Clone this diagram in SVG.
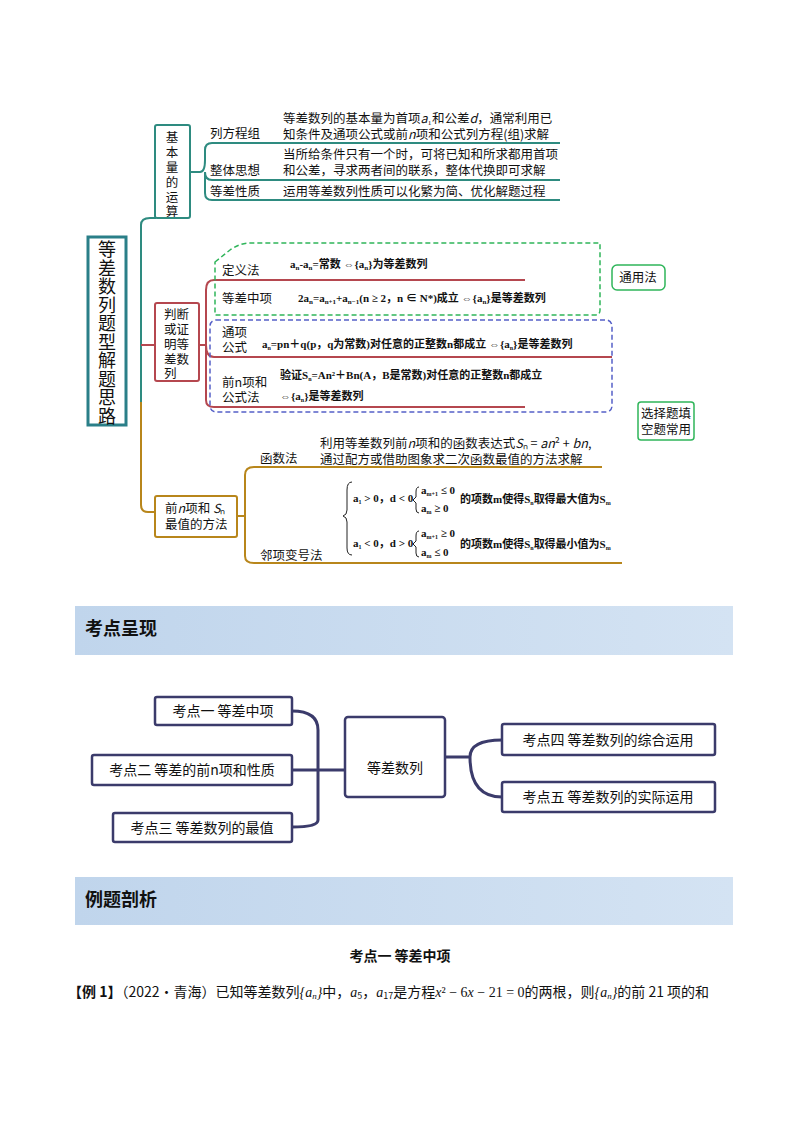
<svg xmlns="http://www.w3.org/2000/svg" width="800" height="1132" viewBox="0 0 800 1132">
<style>
text{font-family:"Noto Sans CJK SC","Liberation Serif",serif;fill:#111}
.s{font-size:12.5px}
.f{font-size:11px;font-family:"Liberation Serif","Noto Sans CJK SC",serif;font-weight:bold}
.t{stroke:#2e8b80;stroke-width:2;fill:none}
.r{stroke:#b5474f;stroke-width:2;fill:none}
.g{stroke:#b8861b;stroke-width:2;fill:none}
.n{stroke:#3b3b6b;stroke-width:3;fill:none}
.nb{fill:#fff;stroke:#3b3b6b;stroke-width:2.5}
.m{font-size:14px}
.h{font-size:18px;font-weight:bold}
.v{font-size:18px;text-anchor:middle}
.vs{font-size:12.5px;text-anchor:middle}
</style>
<defs><linearGradient id="hb" x1="0" x2="1"><stop offset="0" stop-color="#c0d5ec"/><stop offset="1" stop-color="#d4e3f3"/></linearGradient></defs>
<rect width="800" height="1132" fill="#fff"/>
<g id="connectors">
<path class="t" d="M141 402 V225 Q141 218 150 218 H156"/>
<path class="r" d="M141 345 H156"/>
<path class="g" d="M141 402 V505 Q141 512 148 512 H156"/>
<path class="t" d="M190 172 H200 M200 172 Q205 172 205 160 V150 Q205 143 212 143 H560 M205 172 V193 Q205 200 212 200 H560 M205 172 Q205 180 212 180 H560"/>
<path class="r" d="M199 345 H206 M206 345 V290 Q206 280 214 280 H525 M206 345 Q206 357 214 357 H612 M206 345 V400 Q206 407 214 407 H525"/>
<path class="g" d="M237 516 H245 M245 516 V475 Q245 467 254 467 H602 M245 516 V556 Q245 563 254 563 H622"/>
<path d="M215 262 L230 250 Q240 243 250 243 H600 V310 Q600 315 595 315 H215 Z" fill="none" stroke="#2fb55a" stroke-width="1.5" stroke-dasharray="5,3"/>
<rect x="210" y="320" width="402" height="92" rx="6" fill="none" stroke="#5560c8" stroke-width="1.5" stroke-dasharray="5,3"/>
<path class="n" d="M292 711 Q318 711 318 730 V820 Q318 827 292 827 M292 770 H345 M445 757 H470 M470 757 Q470 740 502 740 M470 757 Q470 797 502 797"/>
</g>
<g id="title"><rect x="88" y="237" width="38" height="188" fill="#fff" stroke="#2a7f88" stroke-width="3"/>
<text class="v" x="107" y="256">等</text><text class="v" x="107" y="274.5">差</text><text class="v" x="107" y="293">数</text><text class="v" x="107" y="311.5">列</text><text class="v" x="107" y="330">题</text><text class="v" x="107" y="348.5">型</text><text class="v" x="107" y="367">解</text><text class="v" x="107" y="385.5">题</text><text class="v" x="107" y="404">思</text><text class="v" x="107" y="422.5">路</text></g>
<g id="n1"><rect x="155" y="125" width="35" height="93" rx="2" fill="#fff" stroke="#2e8b80" stroke-width="2"/>
<text class="vs" x="172" y="142">基</text><text class="vs" x="172" y="157">本</text><text class="vs" x="172" y="172">量</text><text class="vs" x="172" y="187">的</text><text class="vs" x="172" y="202">运</text><text class="vs" x="172" y="216">算</text></g>
<g id="n1a"><text class="s" x="210" y="138">列方程组</text><text class="s" x="283" y="123">等差数列的基本量为首项<tspan font-style="italic">a</tspan>₁和公差<tspan font-style="italic">d</tspan>，通常利用已</text><text class="s" x="283" y="139">知条件及通项公式或前<tspan font-style="italic">n</tspan>项和公式列方程(组)求解</text></g>
<g id="n1b"><text class="s" x="210" y="175">整体思想</text><text class="s" x="283" y="159">当所给条件只有一个时，可将已知和所求都用首项</text><text class="s" x="283" y="175">和公差，寻求两者间的联系，整体代换即可求解</text></g>
<g id="n1c"><text class="s" x="210" y="196">等差性质</text><text class="s" x="283" y="196">运用等差数列性质可以化繁为简、优化解题过程</text></g>
<g id="n2"><rect x="155" y="303" width="44" height="78" rx="2" fill="#fff" stroke="#b5474f" stroke-width="2"/>
<text class="s" x="164" y="319">判断</text><text class="s" x="164" y="334">或证</text><text class="s" x="164" y="349">明等</text><text class="s" x="164" y="364">差数</text><text class="s" x="164" y="378">列</text></g>
<g id="n2a"><text class="s" x="222" y="275">定义法</text><text class="f" x="290" y="268">a<tspan font-size="7" dy="2">n</tspan><tspan dy="-2">-a</tspan><tspan font-size="7" dy="2">n</tspan><tspan dy="-2">=常数 ⇔{a</tspan><tspan font-size="7" dy="2">n</tspan><tspan dy="-2">}为等差数列</tspan></text></g>
<g id="n2b"><text class="s" x="222" y="303">等差中项</text><text class="f" x="298" y="302" font-size="12">2a<tspan font-size="7" dy="2">n</tspan><tspan dy="-2">=a</tspan><tspan font-size="7" dy="2">n+1</tspan><tspan dy="-2">+a</tspan><tspan font-size="7" dy="2">n−1</tspan><tspan dy="-2">(n ≥ 2，n ∈ N*)成立 ⇔{a</tspan><tspan font-size="7" dy="2">n</tspan><tspan dy="-2">}是等差数列</tspan></text></g>
<g id="n2c"><text class="s" x="222" y="337">通项</text><text class="s" x="222" y="352">公式</text><text class="f" x="262" y="348" font-size="10">a<tspan font-size="6" dy="2">n</tspan><tspan dy="-2">=pn＋q(p，q为常数)对任意的正整数n都成立 ⇔{a</tspan><tspan font-size="6" dy="2">n</tspan><tspan dy="-2">}是等差数列</tspan></text></g>
<g id="n2d"><text class="s" x="222" y="387">前n项和</text><text class="s" x="222" y="402">公式法</text><text class="f" x="280" y="379" font-size="10">验证S<tspan font-size="6" dy="2">n</tspan><tspan dy="-2">=An²＋Bn(A，B是常数)对任意的正整数n都成立</tspan></text><text class="f" x="280" y="400" font-size="10">⇔{a<tspan font-size="6" dy="2">n</tspan><tspan dy="-2">}是等差数列</tspan></text></g>
<g id="tong"><rect x="612" y="265" width="53" height="25" rx="5" fill="#fff" stroke="#2fb55a" stroke-width="1.5"/><text class="s" x="638" y="282" text-anchor="middle">通用法</text></g>
<g id="xuan"><rect x="638" y="402" width="56" height="38" rx="3" fill="#fff" stroke="#2fb55a" stroke-width="1.5"/><text class="s" x="666" y="418" text-anchor="middle">选择题填</text><text class="s" x="666" y="434" text-anchor="middle">空题常用</text></g>
<g id="n3"><rect x="155" y="496" width="82" height="41" rx="2" fill="#fff" stroke="#b8861b" stroke-width="2"/><text class="s" x="165" y="513">前<tspan font-style="italic">n</tspan>项和 <tspan font-style="italic">S</tspan>ₙ</text><text class="s" x="165" y="529">最值的方法</text></g>
<g id="n3a"><text class="s" x="260" y="463">函数法</text><text class="s" x="320" y="448">利用等差数列前<tspan font-style="italic">n</tspan>项和的函数表达式<tspan font-style="italic">S</tspan>ₙ = <tspan font-style="italic">an</tspan>² + <tspan font-style="italic">bn</tspan>,</text><text class="s" x="320" y="464">通过配方或借助图象求二次函数最值的方法求解</text></g>
<g id="n3b"><text class="s" x="260" y="560">邻项变号法</text>
<path d="M352 482 Q347 482 347 490 V510 Q347 515 343 516 Q347 517 347 522 V548 Q347 555 352 555" fill="none" stroke="#222" stroke-width="1"/>
<text class="f" x="353" y="502" font-size="10">a<tspan font-size="6" dy="2">1</tspan><tspan dy="-2"> &gt; 0，d &lt; 0</tspan></text>
<path d="M419 487 Q416 487 416 492 V497 L413 500 L416 503 V509 Q416 513 419 513" fill="none" stroke="#222" stroke-width="1"/>
<text class="f" x="421" y="494" font-size="10">a<tspan font-size="6" dy="2">m+1</tspan><tspan dy="-2"> ≤ 0</tspan></text><text class="f" x="421" y="512" font-size="10">a<tspan font-size="6" dy="2">m</tspan><tspan dy="-2"> ≥ 0</tspan></text>
<text class="f" x="460" y="503" font-size="10">的项数m使得S<tspan font-size="6" dy="2">n</tspan><tspan dy="-2">取得最大值为S</tspan><tspan font-size="6" dy="2">m</tspan></text>
<text class="f" x="353" y="547" font-size="10">a<tspan font-size="6" dy="2">1</tspan><tspan dy="-2"> &lt; 0，d &gt; 0</tspan></text>
<path d="M419 531 Q416 531 416 536 V541 L413 544 L416 547 V553 Q416 557 419 557" fill="none" stroke="#222" stroke-width="1"/>
<text class="f" x="421" y="537" font-size="10">a<tspan font-size="6" dy="2">m+1</tspan><tspan dy="-2"> ≥ 0</tspan></text><text class="f" x="421" y="556" font-size="10">a<tspan font-size="6" dy="2">m</tspan><tspan dy="-2"> ≤ 0</tspan></text>
<text class="f" x="460" y="548" font-size="10">的项数m使得S<tspan font-size="6" dy="2">n</tspan><tspan dy="-2">取得最小值为S</tspan><tspan font-size="6" dy="2">m</tspan></text></g>
<g id="h1"><rect x="75" y="606" width="658" height="49" fill="url(#hb)"/><text class="h" x="85" y="635">考点呈现</text></g>
<g id="c"><rect class="nb" x="345" y="717" width="100" height="80" rx="3"/><text class="m" x="395" y="773" text-anchor="middle">等差数列</text></g>
<g id="k1"><rect class="nb" x="155" y="697" width="137" height="28" rx="2"/><text class="m" x="223" y="716" text-anchor="middle">考点一  等差中项</text></g>
<g id="k2"><rect class="nb" x="92" y="755" width="200" height="30" rx="2"/><text class="m" x="192" y="775" text-anchor="middle">考点二  等差的前n项和性质</text></g>
<g id="k3"><rect class="nb" x="113" y="813" width="179" height="29" rx="2"/><text class="m" x="202" y="833" text-anchor="middle">考点三  等差数列的最值</text></g>
<g id="k4"><rect class="nb" x="502" y="724" width="213" height="31" rx="2"/><text class="m" x="608" y="745" text-anchor="middle">考点四  等差数列的综合运用</text></g>
<g id="k5"><rect class="nb" x="502" y="782" width="213" height="30" rx="2"/><text class="m" x="608" y="802" text-anchor="middle">考点五  等差数列的实际运用</text></g>
<g id="h2"><rect x="75" y="877" width="658" height="48" fill="url(#hb)"/><text class="h" x="85" y="906">例题剖析</text></g>
<text x="400" y="961" font-size="14" font-weight="bold" text-anchor="middle">考点一  等差中项</text>
<text x="68" y="997" font-size="14"><tspan font-weight="bold">【例 1】</tspan>（2022·青海）已知等差数列<tspan font-family="Liberation Serif" font-style="italic">{a<tspan font-size="9" dy="2">n</tspan><tspan dy="-2">}</tspan></tspan>中，<tspan font-family="Liberation Serif" font-style="italic">a</tspan><tspan font-size="9" dy="2">5</tspan><tspan dy="-2">，</tspan><tspan font-family="Liberation Serif" font-style="italic">a</tspan><tspan font-size="9" dy="2">17</tspan><tspan dy="-2">是方程</tspan><tspan font-family="Liberation Serif"><tspan font-style="italic">x</tspan>² − 6<tspan font-style="italic">x</tspan> − 21 = 0</tspan>的两根，则<tspan font-family="Liberation Serif" font-style="italic">{a<tspan font-size="9" dy="2">n</tspan><tspan dy="-2">}</tspan></tspan>的前 21 项的和</text>
</svg>
